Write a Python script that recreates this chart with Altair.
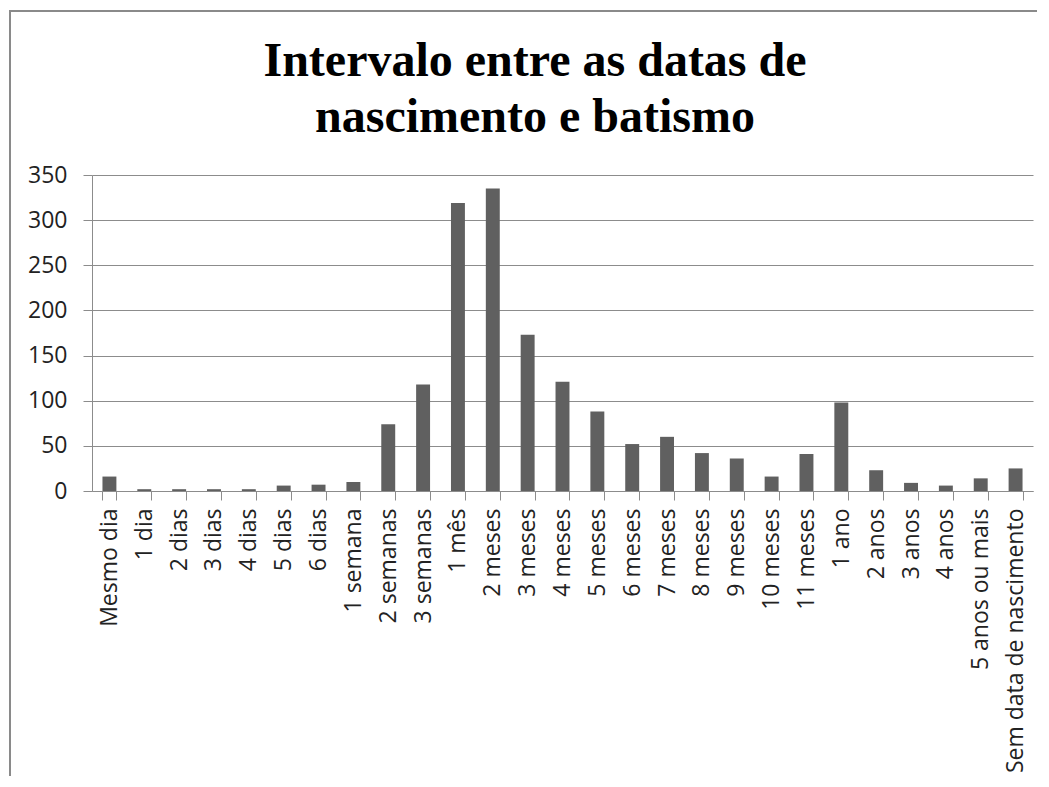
import altair as alt
import pandas as pd

categories = [
    "Mesmo dia", "1 dia", "2 dias", "3 dias", "4 dias", "5 dias", "6 dias",
    "1 semana", "2 semanas", "3 semanas", "1 mês", "2 meses", "3 meses",
    "4 meses", "5 meses", "6 meses", "7 meses", "8 meses", "9 meses",
    "10 meses", "11 meses", "1 ano", "2 anos", "3 anos", "4 anos",
    "5 anos ou mais", "Sem data de nascimento",
]
counts = [
    16, 2, 2, 2, 2, 6, 7,
    10, 74, 118, 319, 335, 173,
    121, 88, 52, 60, 42, 36,
    16, 41, 98, 23, 9, 6,
    14, 25,
]
y_ticks = [0, 50, 100, 150, 200, 250, 300, 350]
title_lines = ["Intervalo entre as datas de", "nascimento e batismo"]

df = pd.DataFrame({"cat": categories, "n": counts})

GRAY = "#8c8c8c"
LABEL_FONT = "Open Sans"
FS = 23

bars = alt.Chart(df).mark_bar(color="#606060").encode(
    x=alt.X(
        "cat:N",
        sort=categories,
        title=None,
        scale=alt.Scale(paddingInner=0.6, paddingOuter=0.3),
        axis=alt.Axis(
            labelAngle=-90,
            tickBand="extent",
            tickSize=9,
            tickColor=GRAY,
            domainColor=GRAY,
            labelFont=LABEL_FONT,
            labelFontSize=FS,
            labelColor="#222222",
            labelPadding=8,
            labelOverlap=False,
            labelLimit=400,
        ),
    ),
    y=alt.Y(
        "n:Q",
        title=None,
        scale=alt.Scale(domain=[0, 350], nice=False),
        axis=alt.Axis(
            values=y_ticks,
            grid=True,
            gridColor=GRAY,
            gridWidth=1.2,
            tickSize=9,
            tickColor=GRAY,
            domainColor=GRAY,
            labelFont=LABEL_FONT,
            labelFontSize=FS,
            labelColor="#222222",
            labelPadding=16,
        ),
    ),
)

frame = alt.Chart(pd.DataFrame({"k": [0]})).mark_rect(
    filled=False, stroke="#8a8a8a", strokeWidth=2
).encode(
    x=alt.value(-82), x2=alt.value(1100), y=alt.value(-164), y2=alt.value(800)
)

title = alt.Chart(pd.DataFrame({"k": [0]})).mark_text(
    text=title_lines,
    font="Liberation Serif",
    fontSize=48,
    fontWeight="bold",
    color="black",
    align="center",
    baseline="alphabetic",
    lineHeight=56,
).encode(x=alt.value(443), y=alt.value(-99))

chart = alt.layer(frame, title, bars).properties(
    width=941,
    height=316,
    padding={"left": 84, "top": 167, "right": 4, "bottom": 285},
    autosize=alt.AutoSizeParams(type="none"),
).configure_view(stroke=None)

chart.save("out.html", embed_options={"renderer": "svg", "actions": False})
